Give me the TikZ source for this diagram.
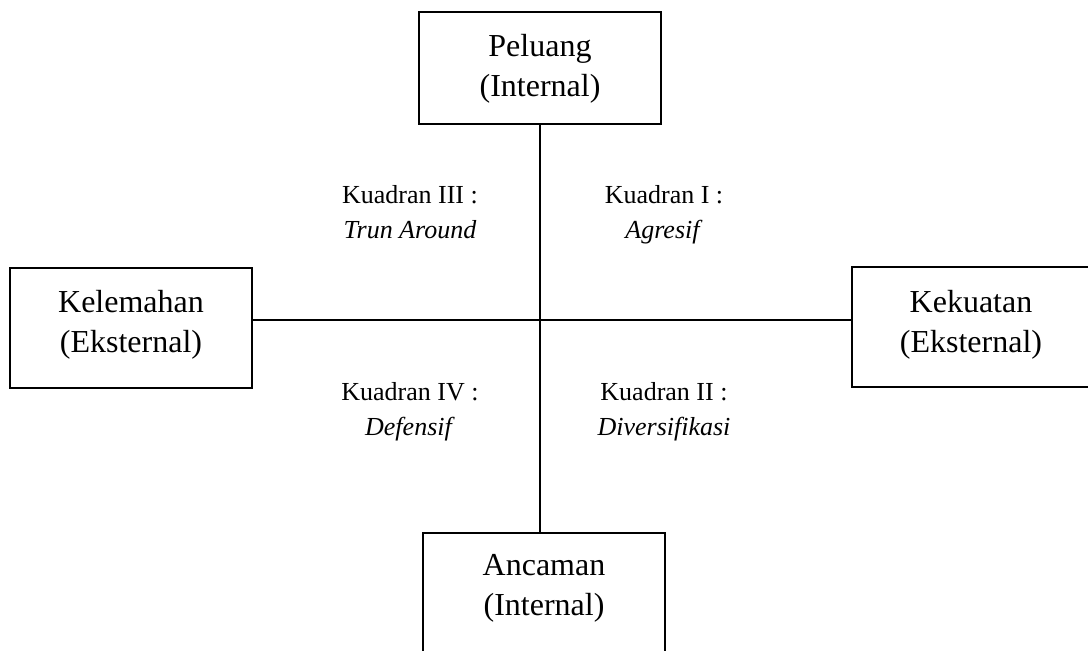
\documentclass[tikz,border=0pt]{standalone}
\usepackage{fontspec}
\setmainfont{Liberation Serif}
\tikzset{
  boxnode/.style={draw, line width=1.6pt, minimum width=242pt, inner sep=0pt},
  boxtext/.style={align=center, font=\fontsize{32}{40}\selectfont, inner sep=0pt},
  quadtext/.style={align=center, font=\fontsize{26}{35}\selectfont, inner sep=0pt},
  axisline/.style={line width=1.1pt}
}
\begin{document}
\begin{tikzpicture}[x=1pt,y=-1pt]
\useasboundingbox (0,0) rectangle (1088,651);
% boxes
\node[boxnode, minimum height=112pt] (top) at (540,68) {};
\node[boxnode, minimum height=120pt] (left) at (131,328) {};
\node[boxnode, minimum width=238pt, minimum height=120pt] (right) at (971,327) {};
\node[boxnode, minimum height=124pt] (bot) at (544,595) {};
% texts
\node[boxtext] (toptext) at (540,68) {\strut Peluang\\\strut(Internal)};
\node[boxtext] (lefttext) at (131,324) {\strut Kelemahan\\\strut(Eksternal)};
\node[boxtext] (righttext) at (971,324) {\strut Kekuatan\\\strut(Eksternal)};
\node[boxtext] (bottext) at (544,587) {\strut Ancaman\\\strut(Internal)};
% axes
\coordinate (hl) at (0,320);
\draw[axisline] (top.south) -- (top.south |- bot.north);
\draw[axisline] (left.east |- hl) -- (right.west |- hl);
% quadrant labels
\node[quadtext] (q3) at (410,214) {\strut Kuadran III :\\\strut\textit{Trun Around}};
\node[quadtext] (q1) at (664,214) {\strut Kuadran I :\\\strut\textit{Agresif}};
\node[quadtext] (q4) at (410,411) {\strut Kuadran IV :\\\strut\textit{Defensif}};
\node[quadtext] (q2) at (664,411) {\strut Kuadran II :\\\strut\textit{Diversifikasi}};
\end{tikzpicture}
\end{document}
